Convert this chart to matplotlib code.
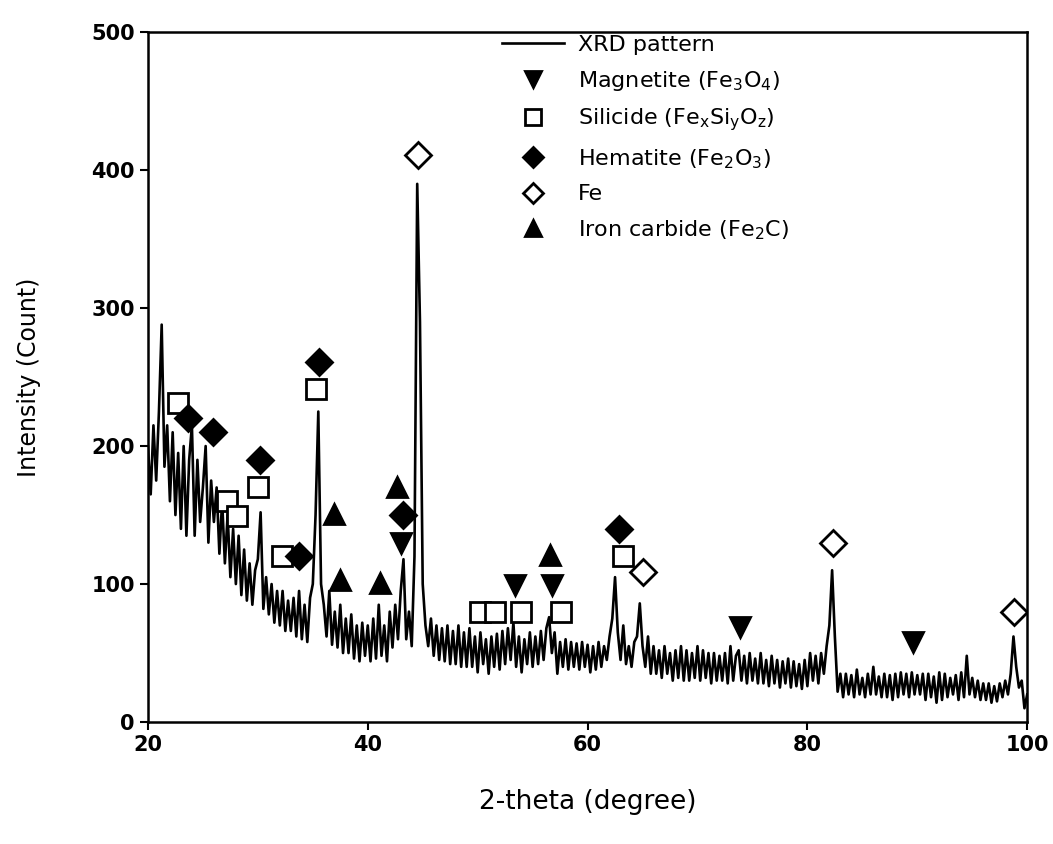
import matplotlib.pyplot as plt
import numpy as np

# XRD pattern on a 0.25 degree grid (20 .. 100)
two_theta = np.arange(20, 100.01, 0.25)
intensity = [
    200, 165, 215, 175,  225, 288, 185, 215,  160, 210, 150, 195,  140, 200, 135, 190,  # 20-23
    215, 135, 190, 145,  170, 200, 130, 175,  145, 170, 122, 160,  115, 150, 105, 140,  # 24-27
    100, 135, 92, 125,   88, 115, 85, 110,    118, 152, 82, 105,   78, 100, 72, 95,    # 28-31
    70, 95, 66, 88,      66, 90, 62, 95,      60, 85, 58, 90,      100, 150, 225, 100,  # 32-35
    85, 62, 95, 56,      80, 54, 85, 50,      75, 50, 78, 46,      70, 44, 72, 48,      # 36-39
    70, 44, 75, 46,      85, 48, 70, 44,      80, 54, 85, 60,      95, 118, 60, 80,     # 40-43
    55, 120, 390, 290,   100, 70, 55, 75,     48, 70, 45, 68,      44, 70, 42, 66,      # 44-47
    42, 70, 40, 65,      40, 68, 40, 62,      36, 65, 42, 60,      35, 62, 40, 64,      # 48-51
    38, 66, 42, 68,      45, 72, 40, 62,      36, 60, 42, 65,      40, 62, 42, 66,      # 52-55
    45, 68, 76, 50,      65, 35, 58, 40,      60, 38, 58, 40,      57, 38, 58, 40,      # 56-59
    56, 36, 55, 38,      58, 40, 55, 45,      62, 75, 105, 65,     45, 70, 42, 55,      # 60-63
    40, 58, 62, 86,      55, 40, 62, 35,      55, 35, 52, 32,      55, 35, 50, 30,      # 64-67
    52, 32, 55, 30,      52, 30, 50, 32,      55, 30, 52, 32,      50, 28, 50, 30,      # 68-71
    48, 30, 50, 28,      55, 30, 48, 52,      30, 48, 28, 50,      30, 46, 28, 50,      # 72-75
    28, 45, 26, 48,      28, 45, 25, 44,      28, 46, 25, 44,      26, 42, 24, 45,      # 76-79
    26, 50, 30, 48,      28, 50, 35, 55,      70, 110, 62, 22,     35, 18, 35, 20,      # 80-83
    34, 18, 38, 20,      32, 18, 35, 20,      40, 20, 33, 18,      35, 18, 34, 16,      # 84-87
    35, 18, 36, 20,      35, 18, 36, 20,      34, 20, 35, 16,      35, 18, 33, 14,      # 88-91
    36, 16, 35, 18,      32, 20, 34, 16,      36, 18, 48, 20,      32, 18, 30, 16,      # 92-95
    28, 16, 28, 14,      26, 15, 28, 18,      30, 20, 35, 62,      40, 25, 30, 10,      # 96-99
    20,
]

# phase markers (2-theta, count)
magnetite_x = [43.0, 53.4, 56.8, 73.9, 89.6]
magnetite_y = [130, 99, 99, 69, 58]
silicide_x = [22.7, 27.2, 28.1, 30.0, 32.2, 35.3, 50.2, 51.6, 53.9, 57.6, 63.2]
silicide_y = [231, 160, 149, 170, 120, 241, 80, 80, 80, 80, 120]
hematite_x = [23.6, 25.9, 30.2, 33.7, 35.6, 43.2, 62.9]
hematite_y = [220, 210, 190, 120, 261, 150, 140]
fe_x = [44.6, 65.0, 82.3, 98.8]
fe_y = [411, 109, 130, 80]
carbide_x = [36.9, 37.5, 41.1, 42.7, 56.6]
carbide_y = [151, 103, 101, 170, 121]

fig = plt.figure(figsize=(10.53, 8.44), dpi=100)
ax = fig.add_axes([0.1405, 0.1445, 0.835, 0.8175])

ax.plot(two_theta, intensity, color='black', lw=1.9, label='XRD pattern', zorder=2)
mk = dict(ls='none', mec='black', mew=2, zorder=3)
ax.plot(magnetite_x, magnetite_y, marker='v', ms=15, mfc='black',
        label=r'Magnetite (Fe$_\mathregular{3}$O$_\mathregular{4}$)', **mk)
ax.plot(silicide_x, silicide_y, marker='s', ms=14, mfc='white',
        label=r'Silicide (Fe$_\mathregular{x}$Si$_\mathregular{y}$O$_\mathregular{z}$)', **mk)
ax.plot(hematite_x, hematite_y, marker='D', ms=13, mfc='black',
        label=r'Hematite (Fe$_\mathregular{2}$O$_\mathregular{3}$)', **mk)
ax.plot(fe_x, fe_y, marker='D', ms=13, mfc='white', label='Fe', **mk)
ax.plot(carbide_x, carbide_y, marker='^', ms=15, mfc='black',
        label=r'Iron carbide (Fe$_\mathregular{2}$C)', **mk)

ax.set_xlim(20, 100)
ax.set_ylim(0, 500)
ax.set_xticks([20, 40, 60, 80, 100])
ax.set_yticks([0, 100, 200, 300, 400, 500])
ax.tick_params(direction='out', length=6, width=1.5, labelsize=15)
for lab in ax.get_xticklabels() + ax.get_yticklabels():
    lab.set_fontweight('bold')
for sp in ax.spines.values():
    sp.set_linewidth(1.8)

ax.set_xlabel('2-theta (degree)', fontsize=19, labelpad=24)
ax.set_ylabel('Intensity (Count)', fontsize=17, labelpad=36)

leg = ax.legend(loc='upper left', bbox_to_anchor=(0.38, 1.025), frameon=False,
                fontsize=16, handlelength=2.8, labelspacing=0.62, handletextpad=0.6,
                markerscale=0.8)

fig.savefig('out.png', dpi=100)
